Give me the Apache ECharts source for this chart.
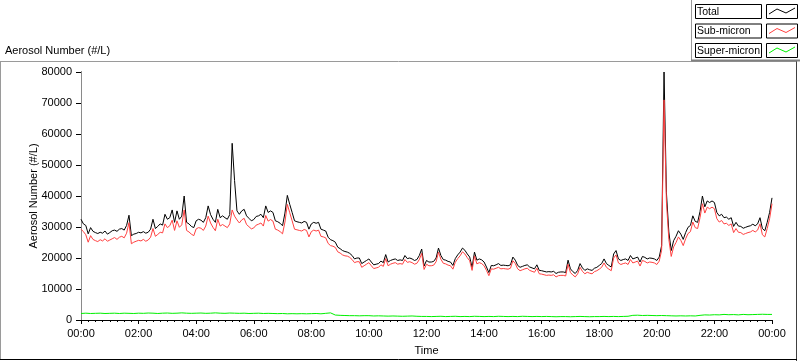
<!DOCTYPE html>
<html><head><meta charset="utf-8">
<script src="https://cdn.jsdelivr.net/npm/echarts@6/dist/echarts.min.js"></script>
<style>html,body{margin:0;padding:0;background:#fff}#c{width:800px;height:361px}</style>
</head><body><div id="c"></div>
<script>
// ---- data ----
const xTickLabels = ['00:00','02:00','04:00','06:00','08:00','10:00','12:00','14:00','16:00','18:00','20:00','22:00','00:00'];
const seriesNames = ['Total','Sub-micron','Super-micron'];
const stepTotalMin = 5;   // minutes between samples of total / sub-micron
const stepSuperMin = 10;  // minutes between samples of super-micron

const total = [
32500,31000,30500,27800,29800,28600,28200,27900,28300,28000,28700,27700,
28200,28800,29000,28600,29300,29500,29000,30500,33800,27200,27700,27900,
28300,28100,28500,28000,28300,29300,32500,29500,30200,31000,30600,34100,
32500,33000,35500,31500,35200,32500,33500,40000,31500,31000,30200,29800,
32000,32500,32200,31500,33000,36800,34000,32500,31500,35700,33000,33600,
33000,32500,34000,57000,45000,35200,34100,35200,35700,33600,32800,32000,
32400,33400,33600,34100,33000,36800,34700,35200,34700,32000,31700,31200,
30400,34500,40200,37300,34700,32000,31700,31500,31300,31800,31500,29300,
31000,31500,31200,31500,29300,29000,28700,26700,25900,25600,25100,23500,
23000,22400,22100,21900,21500,20800,19700,20000,20000,18200,18700,19200,
19700,18700,17800,18000,18200,19000,18500,21100,18700,19200,19500,19700,
19200,19400,19200,20800,19800,20000,19700,19200,19500,20800,22900,17400,
19200,18700,18700,18900,20000,23200,20800,19500,19300,18900,18700,17600,
19800,21000,21900,23200,22500,21300,20300,17000,21900,19300,19700,19400,
18700,17100,15300,17600,17500,17800,18200,17600,17700,17600,17500,17800,
20300,19300,17600,17000,17300,17600,17800,17100,16800,16500,17800,16000,
15900,15700,15500,15600,15500,15700,15000,15400,15500,15500,15300,19300,
16500,15600,15000,16000,18200,16800,16000,16500,16200,16000,16700,17000,
17600,18200,19700,18200,17600,17100,21300,22400,19700,19200,19500,19700,
19200,20800,19700,20000,20300,18700,20500,20200,19700,20000,19900,19700,
19200,20300,24000,80000,41000,28400,22400,25600,27000,28800,27700,26000,
28200,29900,30500,33600,31800,31500,35000,40000,36500,38400,37900,38400,
37900,34700,33600,34100,33000,33200,32500,33000,30200,31500,30300,30200,
29600,29900,30200,30400,30900,30400,31000,33000,29500,28800,31500,34700,
39400
];

const subMicron = [
29300,28500,27500,25100,27200,26000,25600,25300,25900,25500,26200,25400,
25800,26200,26600,26000,26700,27000,26500,28000,31400,24600,25100,25400,
25700,25500,26000,25400,25800,26700,29500,27000,27600,28300,28100,31000,
29800,30400,32200,28900,32000,29900,30700,35500,28900,28400,27700,27200,
29400,29800,29600,28900,30300,33500,31300,29900,28800,32500,30300,30800,
30300,29800,31000,35500,33500,32300,31300,32300,32800,30800,30100,29400,
29700,30600,30900,31300,30300,33700,31900,32400,31900,29300,29000,28500,
27800,31600,37300,34600,32000,29300,29100,28900,28700,29200,28900,26800,
28500,29000,28700,29000,27000,26800,26500,24700,24000,23800,23400,22000,
21600,21000,20700,20600,20200,19500,18500,18800,18800,17000,17500,18000,
18500,17500,16600,16800,17000,17800,17300,19800,17500,18000,18300,18500,
18000,18200,18000,19500,18600,18800,18500,18000,18300,19500,21500,16300,
18000,17500,17500,17700,18800,21900,19600,18300,18100,17700,17500,16400,
18600,19800,20700,22000,21300,20100,19100,16000,20700,18100,18500,18200,
17500,16000,14300,16500,16400,16700,17000,16500,16600,16500,16400,16700,
19100,18200,16500,15900,16200,16500,16700,16000,15700,15400,16700,14900,
14800,14600,14400,14500,14400,14600,13900,14300,14400,14400,14200,18000,
15300,14500,13900,14900,17000,15700,14900,15400,15100,14900,15600,15900,
16400,17000,18400,17000,16400,15900,20000,21000,18400,17900,18200,18400,
17900,19500,18400,18700,19000,17400,19200,18900,18400,18700,18600,18400,
17900,19000,22500,71000,38000,26000,20500,23600,25000,26800,25700,24000,
26200,27900,28500,31600,29800,29500,33000,37500,34500,36400,35900,36400,
35900,32700,31600,32100,31000,31200,30500,31000,28200,29500,28300,28200,
27600,27900,28200,28400,28900,28400,29000,31000,27500,26800,29500,32700,
37500
];

const superMicron = [
2100,2200,2100,2150,2200,2100,2150,2200,2100,2200,2150,2100,
2200,2150,2250,2200,2100,2200,2250,2150,2200,2300,2200,2150,
2200,2250,2150,2200,2300,2200,2150,2250,2200,2150,2200,2100,
2150,2200,2100,2150,2100,2050,2100,2000,2050,2000,2050,2000,
2050,2100,2000,2150,2300,1600,1500,1450,1400,1400,1350,1400,
1400,1300,1350,1300,1250,1300,1250,1200,1250,1300,1200,1150,
1150,1100,1150,1200,1100,1150,1200,1100,1150,1100,1200,1150,
1100,1150,1100,1200,1150,1100,1150,1100,1200,1150,1100,1150,
1100,1150,1100,1050,1100,1100,1050,1100,1150,1100,1050,1100,
1100,1150,1100,1150,1100,1150,1200,1500,1550,1450,1500,1450,
1400,1450,1400,1350,1300,1350,1300,1350,1300,1500,1650,1600,
1700,1650,1800,1700,1750,1650,1800,1700,1750,1800,1850,1800,
1800
];

// ---- chart ----
const FONT = 'Liberation Sans';
function pairs(arr, stepMin){ return arr.map((v,i)=>[i*stepMin/60, v]); }
const colors = ['#000000','#ff4040','#00f000'];

const chart = echarts.init(document.getElementById('c'), null, {renderer:'canvas'});

function legendRow(i, y){
  const zig = [[769,y+10],[777,y+5],[786,y+9],[795,y+4]];
  return [
    {type:'rect', shape:{x:695.5,y:y+0.5,width:66,height:14}, style:{fill:'#fff',stroke:'#000',lineWidth:1}},
    {type:'text', x:697, y:y+8, style:{text:seriesNames[i], font:'10.5px "'+FONT+'"', fill:'#000', verticalAlign:'middle'}},
    {type:'rect', shape:{x:766.5,y:y+0.5,width:31,height:14}, style:{fill:'#fff',stroke:'#000',lineWidth:1}},
    {type:'polyline', shape:{points:zig}, style:{stroke:colors[i],lineWidth:1,fill:null}}
  ];
}

const option = {
  animation:false,
  backgroundColor:'#fff',
  textStyle:{fontFamily:FONT},
  grid:{left:81, top:72, width:691, height:250, show:false},
  xAxis:[{
    type:'value', min:0, max:24, interval:2, position:'bottom',
    axisLine:{show:true, lineStyle:{color:'#8a8a8a', width:1}},
    axisTick:{show:true, length:4, lineStyle:{color:'#000'}},
    minorTick:{show:true, splitNumber:8, length:2, lineStyle:{color:'#000'}},
    axisLabel:{color:'#000', fontSize:11, fontFamily:FONT, margin:8,
      formatter:(v)=>xTickLabels[Math.round(v/2)]},
    splitLine:{show:false},
    name:'Time', nameLocation:'middle', nameGap:25, nameMoveOverlap:false,
    nameTextStyle:{color:'#000', fontSize:11, fontFamily:FONT}
  },{
    type:'value', min:0, max:24, position:'top',
    axisLine:{show:true, lineStyle:{color:'#000', width:1}},
    axisTick:{show:false}, axisLabel:{show:false}, splitLine:{show:false}
  }],
  yAxis:[{
    type:'value', min:0, max:80000, interval:10000, position:'left',
    axisLine:{show:true, lineStyle:{color:'#000', width:1}},
    axisTick:{show:true, length:5, lineStyle:{color:'#000'}},
    axisLabel:{color:'#000', fontSize:11, fontFamily:FONT, margin:9, formatter:(v)=>String(v)},
    splitLine:{show:false},
    name:'Aerosol Number (#/L)', nameLocation:'middle', nameGap:42, nameMoveOverlap:false,
    nameTextStyle:{color:'#000', fontSize:11, fontFamily:FONT}
  },{
    type:'value', min:0, max:80000, position:'right',
    axisLine:{show:true, lineStyle:{color:'#8a8a8a', width:1}},
    axisTick:{show:false}, axisLabel:{show:false}, splitLine:{show:false}
  }],
  series:[
    {name:seriesNames[0], type:'line', data:pairs(total, stepTotalMin), showSymbol:false, symbol:'none',
     lineStyle:{color:colors[0], width:1}, itemStyle:{color:colors[0]}, z:2},
    {name:seriesNames[1], type:'line', data:pairs(subMicron, stepTotalMin), showSymbol:false, symbol:'none',
     lineStyle:{color:colors[1], width:1}, itemStyle:{color:colors[1]}, z:3},
    {name:seriesNames[2], type:'line', data:pairs(superMicron, stepSuperMin), showSymbol:false, symbol:'none',
     lineStyle:{color:colors[2], width:1}, itemStyle:{color:colors[2]}, z:4}
  ],
  graphic:[
    // outer panel frame
    {type:'line', shape:{x1:0, y1:61.5, x2:797, y2:61.5}, style:{stroke:'#9a9a9a', lineWidth:1}},
    {type:'line', shape:{x1:0.5, y1:61, x2:0.5, y2:360}, style:{stroke:'#9a9a9a', lineWidth:1}},
    {type:'line', shape:{x1:796.5, y1:61, x2:796.5, y2:361}, style:{stroke:'#404040', lineWidth:1}},
    {type:'line', shape:{x1:0, y1:359.5, x2:797, y2:359.5}, style:{stroke:'#000', lineWidth:1}},
    // legend panel
    {type:'line', shape:{x1:691.5, y1:0, x2:691.5, y2:61}, style:{stroke:'#9a9a9a', lineWidth:1}},
    {type:'line', shape:{x1:691, y1:60.5, x2:800, y2:60.5}, style:{stroke:'#808080', lineWidth:2}},
    // top-left label
    {type:'text', x:5, y:51, style:{text:'Aerosol Number (#/L)', font:'11px "'+FONT+'"', fill:'#000', verticalAlign:'middle'}}
  ].concat(legendRow(0,4), legendRow(1,23.5), legendRow(2,43))
};
chart.setOption(option);
</script>
</body></html>
